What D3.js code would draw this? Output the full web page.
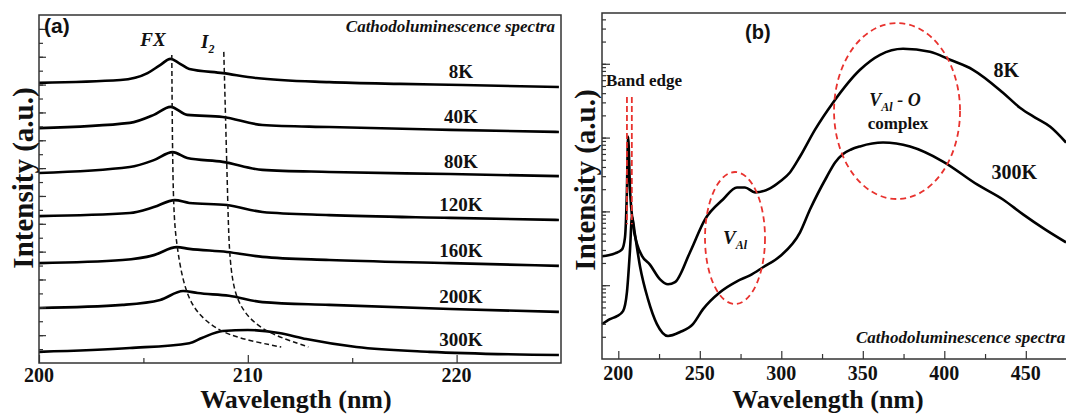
<!DOCTYPE html>
<html lang="en">
<head>
<meta charset="UTF-8">
<title>Cathodoluminescence spectra</title>
<script src="https://d3js.org/d3.v7.min.js"></script>
<style>
  body { margin: 0; background: #fff; }
  text { font-family: "Liberation Serif", "Times New Roman", serif; font-weight: bold; fill: #111; }
</style>
</head>
<body>
<div id="chart"></div>
<script>
// ---------- panel (a) data: [wavelength nm, stacked intensity a.u.] ----------
var tempsA = ["8K", "40K", "80K", "120K", "160K", "200K", "300K"];
var k8 = [[200,8.05],[203.9,8.13],[205.2,8.33],[205.8,8.56],[206.3,8.74],[206.7,8.62],[207.2,8.45],[208.8,8.33],[210.4,8.19],[213.9,8.07],[217.3,8.02],[220.3,7.99],[224.9,7.93]];
var k40 = [[200,6.75],[204.35,6.90],[205.5,7.13],[206.3,7.36],[207.1,7.13],[208.8,7.07],[210.7,6.84],[213.9,6.78],[219.7,6.70],[224.9,6.64]];
var k80 = [[200,5.46],[204.35,5.63],[205.5,5.83],[206.4,6.06],[207.1,5.89],[208.8,5.78],[210.7,5.55],[213.9,5.49],[219.7,5.43],[224.9,5.37]];
var k120 = [[200,4.22],[204.35,4.31],[205.5,4.48],[206.5,4.68],[207.2,4.60],[209.0,4.54],[210.7,4.34],[213.9,4.25],[219.7,4.17],[224.9,4.11]];
var k160 = [[200,2.87],[204.0,2.96],[205.5,3.10],[206.6,3.33],[207.2,3.28],[209.0,3.19],[210.7,3.05],[213.9,2.96],[219.7,2.87],[224.9,2.79]];
var k200 = [[200,1.58],[204.0,1.67],[205.8,1.81],[206.9,2.07],[207.6,2.01],[209.1,1.93],[210.7,1.75],[213.9,1.67],[219.7,1.55],[224.9,1.47]];
var k300 = [[200,0.32],[204.35,0.43],[207.2,0.57],[207.8,0.72],[208.8,0.92],[210.0,0.95],[211.5,0.86],[212.8,0.69],[215.2,0.46],[218.7,0.32],[224.9,0.23]];
var seriesA = [k8, k40, k80, k120, k160, k200, k300];
// peak-shift guide lines
var guideFX = [[206.36,8.85],[206.41,4.40],[206.6,3.39],[206.84,2.47],[207.3,1.61],[208.2,1.09],[209.1,0.80],[210.4,0.60],[211.6,0.46]];
var guideI2 = [[208.85,8.94],[209.04,4.68],[209.1,3.25],[209.3,2.10],[209.8,1.44],[210.7,0.95],[211.9,0.66],[212.9,0.46]];
var ticksA = [200, 210, 220];
var minorA = [205, 215];

// ---------- panel (b) data: [wavelength nm, intensity a.u. (log)] ----------
var b8K = [[190,24.7],[198,27],[202.3,30.6],[204.1,44.5],[205.3,198],[206,1030],[207.2,198],[209,67],[211.5,36],[214.5,25],[219.4,19],[225.6,12],[230.5,10.3],[234.8,11],[244,28],[253.2,78],[264.2,145],[272.8,211],[277.7,211],[283.9,181],[293.1,205],[299.2,254],[305.3,337],[311.5,554],[320.7,1282],[331.7,2973],[348.3,8300],[360.6,13240],[374.7,15960],[391.2,14520],[403.5,11330],[417.6,8300],[436,4060],[446.4,2543],[456,1850],[465,1400],[474.7,856]];
var b300K = [[190,2.97],[194.9,3.47],[199.2,3.81],[202.9,4.45],[205.3,8.04],[207.2,30.6],[208.4,85.6],[210.2,48.9],[213.3,18.1],[218.2,6.47],[223.7,2.97],[230.5,2.05],[237.9,2.32],[245.8,2.97],[252,4.74],[262.4,8.04],[272.8,11.3],[280.8,13.6],[288.8,17.5],[299.2,24.7],[311.5,52],[317.6,106],[328,297],[333,460],[337.9,600],[342.8,690],[348.3,760],[362.4,856],[379,755],[399.2,474],[420.1,232],[436,145],[448.3,91],[461.8,57],[474.7,38]];
var ticksB = [200, 250, 300, 350, 400, 450];
var minorB = [225, 275, 325, 375, 425, 475];

var W = 1066, H = 414;
var svg = d3.select("#chart").append("svg").attr("width", W).attr("height", H);

// ================= panel (a) =================
var xA = d3.scaleLinear().domain([200, 225]).range([39, 561]);
var yA = d3.scaleLinear().domain([0, 10]).range([363, 15]);
var gA = svg.append("g");

var lineA = d3.line().x(function(d){ return xA(d[0]); }).y(function(d){ return yA(d[1]); }).curve(d3.curveMonotoneX);

gA.selectAll(".curveA").data(seriesA).enter().append("path")
  .attr("d", lineA).attr("fill", "none").attr("stroke", "#000").attr("stroke-width", 2.6);

var guideLine = d3.line().x(function(d){ return xA(d[0]); }).y(function(d){ return yA(d[1]); }).curve(d3.curveBasis);
[guideFX, guideI2].forEach(function(g){
  gA.append("path").attr("d", guideLine(g)).attr("fill", "none")
    .attr("stroke", "#111").attr("stroke-width", 1.5).attr("stroke-dasharray", "5,3");
});

// temperature labels just above each curve at ~220 nm
function valAt(s, nm) {
  for (var i = 1; i < s.length; i++) {
    if (s[i][0] >= nm) {
      var t = (nm - s[i-1][0]) / (s[i][0] - s[i-1][0]);
      return s[i-1][1] + t * (s[i][1] - s[i-1][1]);
    }
  }
  return s[s.length-1][1];
}
gA.selectAll(".labA").data(seriesA).enter().append("text")
  .attr("x", xA(220.2)).attr("y", function(d){ return yA(valAt(d, 220.2)) - 11; })
  .attr("text-anchor", "middle").attr("dominant-baseline", "middle")
  .style("font-size", "19px").text(function(d, i){ return tempsA[i]; });

// frame + axes
gA.append("rect").attr("x", 39).attr("y", 15).attr("width", 522).attr("height", 348)
  .attr("fill", "none").attr("stroke", "#333").attr("stroke-width", 1.5);
gA.append("g").attr("transform", "translate(0,363)")
  .call(d3.axisTop(xA).tickValues(minorA).tickSize(5).tickFormat(""))
  .call(function(g){ g.select(".domain").remove(); });
gA.append("g").attr("transform", "translate(0,363)")
  .call(d3.axisTop(xA).tickValues(ticksA).tickSize(8).tickFormat(""))
  .call(function(g){ g.select(".domain").remove(); });
gA.selectAll(".tlA").data(ticksA).enter().append("text")
  .attr("x", function(d){ return xA(d); }).attr("y", 382)
  .attr("text-anchor", "middle").style("font-size", "20px").text(function(d){ return d; });
gA.append("g").attr("transform", "translate(39,0)")
  .call(d3.axisRight(yA).tickValues(d3.range(0.4, 10, 0.4)).tickSize(4).tickFormat(""))
  .call(function(g){ g.select(".domain").remove(); });
gA.append("g").attr("transform", "translate(39,0)")
  .call(d3.axisRight(yA).tickValues(d3.range(0.8, 10, 0.8)).tickSize(7).tickFormat(""))
  .call(function(g){ g.select(".domain").remove(); });
gA.selectAll(".tick line").attr("stroke", "#333").attr("stroke-width", 1.2);

gA.append("text").attr("x", 296).attr("y", 408).attr("text-anchor", "middle")
  .style("font-size", "26px").text("Wavelength (nm)");
gA.append("text").attr("transform", "translate(33,178) rotate(-90)").attr("text-anchor", "middle")
  .style("font-size", "29px").text("Intensity (a.u.)");

gA.append("text").attr("x", 44).attr("y", 33)
  .style("font-family", "'Liberation Sans', Arial, sans-serif").style("font-size", "21px").text("(a)");
gA.append("text").attr("x", 555).attr("y", 32).attr("text-anchor", "end")
  .style("font-style", "italic").style("font-size", "17px").text("Cathodoluminescence spectra");
gA.append("text").attr("x", 153).attr("y", 46).attr("text-anchor", "middle")
  .style("font-style", "italic").style("font-size", "19px").text("FX");
var i2 = gA.append("text").attr("x", 201).attr("y", 48).style("font-style", "italic").style("font-size", "19px");
i2.append("tspan").text("I");
i2.append("tspan").attr("dy", 5).style("font-size", "12px").text("2");

// ================= panel (b) =================
var xB = d3.scaleLinear().domain([190, 480]).range([602, 1074.7]);
var yB = d3.scaleLog().domain([1, 48760]).range([359, 13]);
var gB = svg.append("g");

var lineB = d3.line().x(function(d){ return xB(d[0]); }).y(function(d){ return yB(d[1]); }).curve(d3.curveMonotoneX);
gB.selectAll(".curveB").data([b8K, b300K]).enter().append("path")
  .attr("d", lineB).attr("fill", "none").attr("stroke", "#000").attr("stroke-width", 2.6);

var red = "#e8322e";
[205.3, 208.3].forEach(function(nm){
  gB.append("line").attr("x1", xB(nm)).attr("x2", xB(nm)).attr("y1", yB(3550)).attr("y2", yB(67))
    .attr("stroke", red).attr("stroke-width", 1.8).attr("stroke-dasharray", "6,3");
});
gB.append("ellipse").attr("cx", xB(271.6)).attr("cy", yB(43.6)).attr("rx", 30).attr("ry", 66)
  .attr("fill", "none").attr("stroke", red).attr("stroke-width", 1.8).attr("stroke-dasharray", "6,4");
gB.append("ellipse").attr("cx", xB(371)).attr("cy", yB(2290)).attr("rx", 63).attr("ry", 88)
  .attr("fill", "none").attr("stroke", red).attr("stroke-width", 1.8).attr("stroke-dasharray", "6,4");

// frame + axes
gB.append("rect").attr("x", 602).attr("y", 13).attr("width", 480).attr("height", 346)
  .attr("fill", "none").attr("stroke", "#333").attr("stroke-width", 1.5);
gB.append("g").attr("transform", "translate(0,359)")
  .call(d3.axisTop(xB).tickValues(minorB).tickSize(5).tickFormat(""))
  .call(function(g){ g.select(".domain").remove(); });
gB.append("g").attr("transform", "translate(0,359)")
  .call(d3.axisTop(xB).tickValues(ticksB).tickSize(8).tickFormat(""))
  .call(function(g){ g.select(".domain").remove(); });
gB.selectAll(".tlB").data(ticksB).enter().append("text")
  .attr("x", function(d){ return xB(d); }).attr("y", 380)
  .attr("text-anchor", "middle").style("font-size", "20px").text(function(d){ return d; });
var logTicks = yB.ticks().filter(function(d){ return d > 1; });
gB.append("g").attr("transform", "translate(602,0)")
  .call(d3.axisRight(yB).tickValues(logTicks).tickSize(4).tickFormat(""))
  .call(function(g){ g.select(".domain").remove(); });
gB.append("g").attr("transform", "translate(602,0)")
  .call(d3.axisRight(yB).tickValues([10, 100, 1000, 10000]).tickSize(8).tickFormat(""))
  .call(function(g){ g.select(".domain").remove(); });
gB.selectAll(".tick line").attr("stroke", "#333").attr("stroke-width", 1.2);

gB.append("text").attr("x", 828).attr("y", 408).attr("text-anchor", "middle")
  .style("font-size", "26px").text("Wavelength (nm)");
gB.append("text").attr("transform", "translate(595,180) rotate(-90)").attr("text-anchor", "middle")
  .style("font-size", "29px").text("Intensity (a.u.)");

gB.append("text").attr("x", 745).attr("y", 39)
  .style("font-family", "'Liberation Sans', Arial, sans-serif").style("font-size", "20px").text("(b)");
gB.append("text").attr("x", 856).attr("y", 343)
  .style("font-style", "italic").style("font-size", "17px").text("Cathodoluminescence spectra");
gB.append("text").attr("x", 606).attr("y", 86).style("font-size", "17px").text("Band edge");

var labelsB = [{t: "8K", nm: 438, v: 7600}, {t: "300K", nm: 443, v: 320}];
gB.selectAll(".labB").data(labelsB).enter().append("text")
  .attr("x", function(d){ return xB(d.nm); }).attr("y", function(d){ return yB(d.v); })
  .attr("text-anchor", "middle").attr("dominant-baseline", "middle")
  .style("font-size", "20px").text(function(d){ return d.t; });

var va = gB.append("text").attr("x", xB(271.6)).attr("y", yB(43.6) + 6).attr("text-anchor", "middle")
  .style("font-style", "italic").style("font-size", "19px");
va.append("tspan").text("V");
va.append("tspan").attr("dy", 5).style("font-size", "12px").text("Al");

var vo = gB.append("text").attr("x", xB(371) - 2).attr("y", yB(2290) - 5).attr("text-anchor", "middle")
  .style("font-style", "italic").style("font-size", "18px");
vo.append("tspan").text("V");
vo.append("tspan").attr("dy", 5).style("font-size", "12px").text("Al");
vo.append("tspan").attr("dy", -5).text(" - O");
gB.append("text").attr("x", xB(371) + 1).attr("y", yB(2290) + 18).attr("text-anchor", "middle")
  .style("font-size", "17px").text("complex");
</script>
</body>
</html>
